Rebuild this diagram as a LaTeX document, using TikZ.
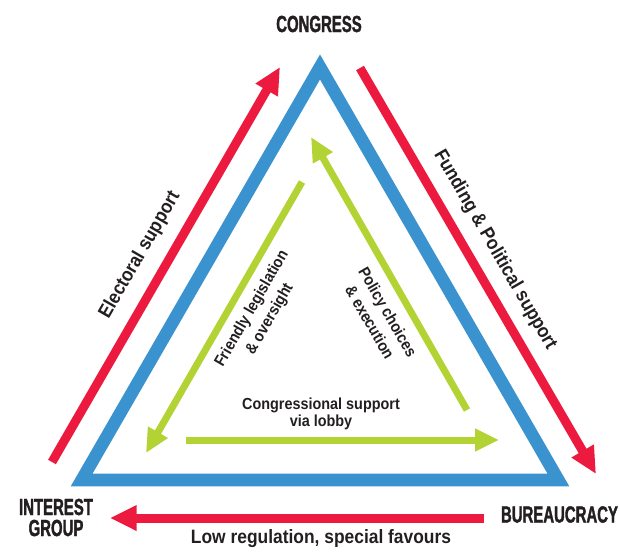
\documentclass[tikz,border=0pt]{standalone}
\usepackage{fontspec}
\usetikzlibrary{arrows.meta}
\newfontfamily\headfont{Liberation Sans}[FakeStretch=0.64, FakeBold=1.5]
\newfontfamily\labelfont{Liberation Sans}[FakeStretch=0.9]
\definecolor{ironblue}{HTML}{3A93CF}
\definecolor{ironred}{HTML}{EC1A3F}
\definecolor{irongreen}{HTML}{B3D334}
\definecolor{irontext}{HTML}{231F20}
\tikzset{
  actor/.style    = {align=center, text=irontext, inner sep=0pt,
                     font=\headfont\bfseries\fontsize{17.5}{15.75}\selectfont},
  outerlbl/.style = {align=center, text=irontext, inner sep=0pt,
                     font=\labelfont\bfseries\fontsize{14.5}{17}\selectfont},
  innerlbl/.style = {outerlbl, %rotate=0,
                     font=\labelfont\bfseries\fontsize{12}{15.5}\selectfont},
  ironside/.style = {draw=ironblue, line width=9.4pt, line join=miter},
  support/.style  = {draw=ironred, line width=6.75pt,
                     -{Triangle[length=20pt, width=18pt]}},
  favour/.style   = {draw=irongreen, line width=5.25pt,
                     -{Triangle[length=18pt, width=16pt]}}
}

\begin{document}
\begin{tikzpicture}
  [
  x = 0.75pt, y = -0.75pt,
  %every node/.style = {draw},
  ]
  \useasboundingbox (0,0) rectangle (620,551);

  % corners of the triangle
  \coordinate (top)   at (320,67);
  \coordinate (left)  at (81.6,480);
  \coordinate (right) at (558.4,480);
  \draw[ironside] (top) -- (left) -- (right) -- cycle;

  \node[actor] (congress)    at (319,24)    {CONGRESS};
  \node[actor] (interest)    at (56,517.5)  {INTEREST\\GROUP};
  \node[actor] (bureaucracy) at (559.5,514.5) {BUREAUCRACY};

  % outer (red) flows
  \coordinate (elecA) at (52,462);   \coordinate (elecB) at (280,67);
  \coordinate (fundA) at (360,68);   \coordinate (fundB) at (596,474);
  \coordinate (regA)  at (484,518);  \coordinate (regB)  at (110,518);
  \draw[support] (elecA) -- (elecB);
  \draw[support] (fundA) -- (fundB);
  \draw[support] (regA) -- (regB);

  % inner (green) flows
  \coordinate (legA) at (302,182);   \coordinate (legB) at (146,453);
  \coordinate (polA) at (467,410);   \coordinate (polB) at (311,137);
  \coordinate (lobA) at (186,440);   \coordinate (lobB) at (499,440);
  \draw[favour] (legA) -- (legB);
  \draw[favour] (polA) -- (polB);
  \draw[favour] (lobA) -- (lobB);

  \node[outerlbl, rotate=60]  (electoral) at (140,255) {Electoral support};
  \node[outerlbl, rotate=-60] (funding)   at (495,250) {Funding \& Political support};
  \node[outerlbl]             (favours)   at (321,539) {Low regulation, special favours};

  \node[innerlbl, rotate=60]  (friendly) at (261,314) {Friendly legislation\\\& oversight};
  \node[innerlbl, rotate=-60] (policy)   at (379,317) {Policy choices\\\& execution};
  \node[innerlbl, font=\labelfont\bfseries\fontsize{12}{13}\selectfont]
                              (lobby)    at (321,414) {Congressional support\\via lobby};

\end{tikzpicture}
\end{document}
